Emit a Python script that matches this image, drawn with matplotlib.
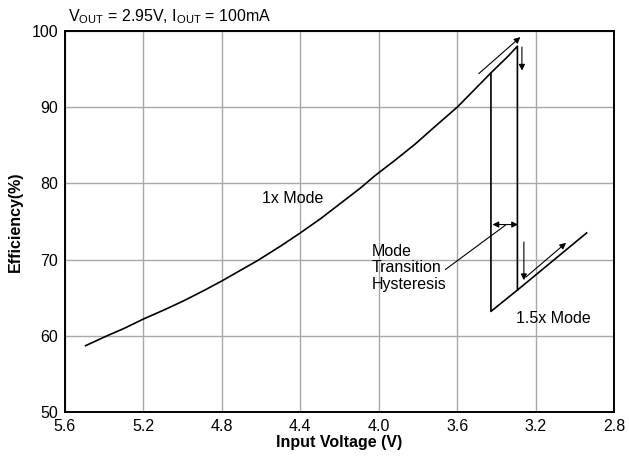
import numpy as np
import matplotlib.pyplot as plt

plt.rcParams['font.family'] = ['Liberation Sans', 'DejaVu Sans']
plt.rcParams['mathtext.fontset'] = 'custom'
plt.rcParams['mathtext.rm'] = 'Liberation Sans'

# 1x mode efficiency (input voltage falling)
v_1x = [5.495, 5.394, 5.296, 5.2, 5.094, 4.99, 4.89, 4.8, 4.616, 4.499, 4.4, 4.295,
        4.194, 4.093, 4.02, 3.919, 3.817, 3.716, 3.6, 3.512, 3.428, 3.344, 3.293]
eff_1x = [58.7, 59.9, 61.0, 62.2, 63.4, 64.65, 65.96, 67.2, 69.9, 71.8, 73.5, 75.4,
          77.4, 79.4, 81.0, 83.0, 85.1, 87.4, 90.0, 92.3, 94.5, 96.6, 98.0]

# 1.5x mode efficiency
v_15x = [3.428, 3.293, 2.94]
eff_15x = [63.2, 66.0, 73.5]

fig = plt.figure(figsize=(6.29, 4.61), dpi=100)
ax = fig.add_axes([0.1033, 0.1063, 0.873, 0.8265])

# falling input: 1x down to 3.29 V, drop to 1.5x, continue
ax.plot(v_1x + v_15x[1:], eff_1x + eff_15x[1:], color='black', lw=1.2)
# rising input: 1.5x up to 3.43 V, jump back to 1x
ax.plot([v_15x[1], v_15x[0], v_1x[-3]], [eff_15x[1], eff_15x[0], eff_1x[-3]], color='black', lw=1.2)

ax.set_xlim(5.6, 2.8)
ax.set_ylim(50, 100)
ax.set_xticks([5.6, 5.2, 4.8, 4.4, 4.0, 3.6, 3.2, 2.8])
ax.set_xticklabels(['5.6', '5.2', '4.8', '4.4', '4.0', '3.6', '3.2', '2.8'])
ax.set_yticks([50, 60, 70, 80, 90, 100])
ax.grid(True, color='#a8a8a8', lw=1)
ax.tick_params(length=0, labelsize=11.5, pad=5)
for s in ax.spines.values():
    s.set_linewidth(1.4)

ax.set_xlabel('Input Voltage (V)', fontsize=11.5, fontweight='bold', labelpad=1)
ax.set_ylabel('Efficiency(%)', fontsize=11.5, fontweight='bold', labelpad=6)
fig.text(0.108, 0.963, r'V$_{\mathrm{OUT}}$ = 2.95V, I$_{\mathrm{OUT}}$ = 100mA',
         fontsize=11.5, va='center', ha='left')

arr = dict(arrowstyle='-|>', color='black', lw=0.8, mutation_scale=9, shrinkA=0, shrinkB=0)
ax.annotate('', xy=(3.278, 99.2), xytext=(3.49, 94.4), arrowprops=arr)
ax.annotate('', xy=(3.27, 94.8), xytext=(3.27, 97.9), arrowprops=arr)
ax.annotate('', xy=(3.26, 67.3), xytext=(3.26, 72.3), arrowprops=arr)
ax.annotate('', xy=(3.045, 72.2), xytext=(3.25, 67.7), arrowprops=arr)
dbl = dict(arrowstyle='<|-|>', color='black', lw=0.8, mutation_scale=9, shrinkA=0, shrinkB=0)
ax.annotate('', xy=(3.29, 74.6), xytext=(3.42, 74.6), arrowprops=dbl)
ax.plot([3.66, 3.355], [68.7, 74.5], color='black', lw=0.8)

ax.text(4.44, 78.0, '1x Mode', fontsize=11.5, ha='center', va='center')
ax.text(4.035, 68.9, 'Mode\nTransition\nHysteresis', fontsize=11.5, ha='left', va='center',
        linespacing=1.1)
ax.text(3.11, 62.3, '1.5x Mode', fontsize=11.5, ha='center', va='center')

fig.savefig('out.png', dpi=100)
